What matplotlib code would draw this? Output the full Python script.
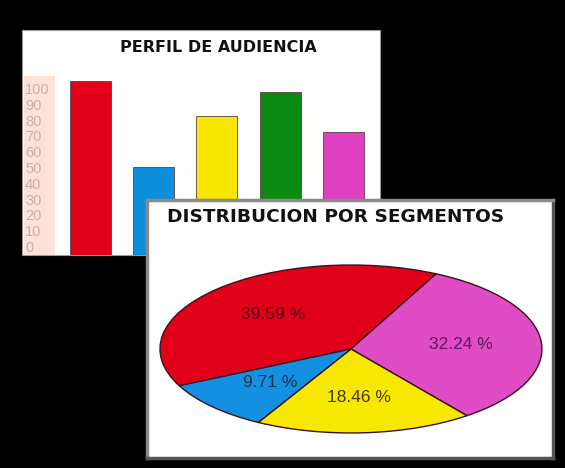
import matplotlib
matplotlib.use("Agg")
import matplotlib.pyplot as plt
from matplotlib.patches import Rectangle

# ---- data ----
segmentos = ["A", "B", "C", "D", "E"]
audiencia = [110, 56, 88, 103, 78]
colores_barras = ["#e2001a", "#0d8fdc", "#f6e600", "#0b8a12", "#e040c2"]
ticks_y = [0, 10, 20, 30, 40, 50, 60, 70, 80, 90, 100]

pie_valores = [39.59, 32.24, 18.46, 9.71]
pie_colores = ["#e0001a", "#e04cc4", "#f8e800", "#1490e0"]
pie_textcol = ["#5a0c14", "#5a1a5e", "#3e3a00", "#143250"]

W, H = 565, 468
fig = plt.figure(figsize=(W / 100, H / 100), dpi=100, facecolor="black")


def box(l, t, r, b):
    return [l / W, 1 - b / H, (r - l) / W, (b - t) / H]


# top panel background
l, b, w, h = box(22, 30, 380, 255)
fig.patches.append(Rectangle((l, b), w, h, transform=fig.transFigure,
                             facecolor="white", edgecolor="#9a9a9a", lw=0.8, zorder=-2))
l, b, w, h = box(24, 76, 55, 255)
fig.patches.append(Rectangle((l, b), w, h, transform=fig.transFigure,
                             facecolor="#fde2d8", edgecolor="none", zorder=-1))

ax = fig.add_axes(box(55, 30, 380, 255), zorder=1)
ax.set_facecolor("none")
ax.bar(segmentos, audiencia, width=0.65, color=colores_barras,
       edgecolor="#5a4040", linewidth=0.6)
ax.set_xlim(-0.56, 4.58)
ax.set_ylim(0, 225 / 1.58)
for s in ax.spines.values():
    s.set_visible(False)
ax.set_xticks([])
ax.set_yticks(ticks_y)
ax.set_yticklabels([str(t) for t in ticks_y], va="bottom", ha="left",
                   family="Liberation Sans", fontsize=10.5, color="#cfada4")
ax.tick_params(axis="y", length=0, pad=21.6)

fig.text(218 / W, 1 - 47 / H, "PERFIL DE AUDIENCIA", ha="center", va="center",
         fontsize=11.5, fontweight="heavy", color="#111111")

# pie panel
ax2 = fig.add_axes(box(147, 200, 553, 458), zorder=3)
ax2.set_facecolor("white")
wedges, texts, autotexts = ax2.pie(
    pie_valores, colors=pie_colores, startangle=206, counterclock=False,
    autopct="%.2f %%", pctdistance=0.58,
    wedgeprops=dict(edgecolor="#3a1020", linewidth=1),
    textprops=dict(family="Liberation Sans", fontsize=12.5))
for t, c in zip(autotexts, pie_textcol):
    t.set_color(c)
ax2.set_aspect("auto")
ax2.set_xlim(-1.068, 1.058)
ax2.set_ylim(-1.298, 1.774)
ax2.set_frame_on(True)
ax2.set_xticks([])
ax2.set_yticks([])
for k, s in ax2.spines.items():
    s.set_color("#8a8a8a" if k in ("top", "left") else "#555555")
    s.set_linewidth(2.5)

fig.text(167 / W, 1 - 217 / H, "DISTRIBUCION POR SEGMENTOS", ha="left", va="center",
         fontsize=13.3, fontweight="heavy", color="#111111", zorder=5)

fig.savefig("out.png", dpi=100, facecolor="black")
